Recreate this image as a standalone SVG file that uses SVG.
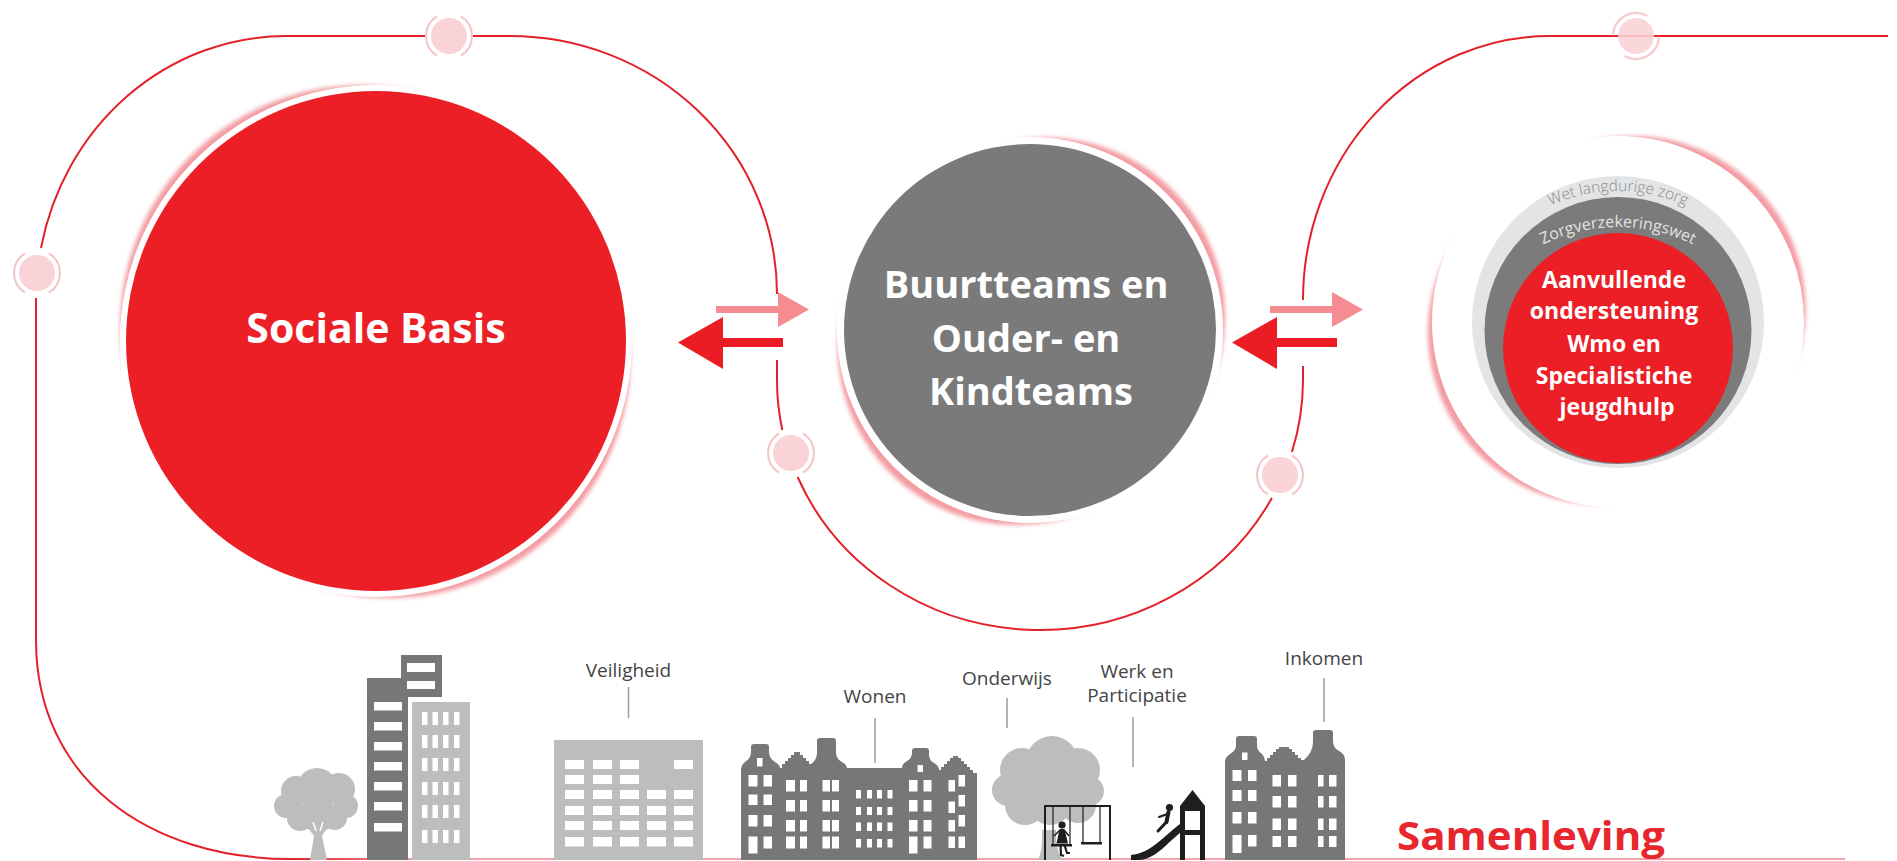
<svg xmlns="http://www.w3.org/2000/svg" width="1897" height="861" viewBox="0 0 1897 861">
  <style>
    .loop{fill:none;stroke:#e4212a;stroke-width:2}
    .title{font-family:"Open Sans","Liberation Sans",sans-serif;font-weight:700;fill:#fff;text-anchor:middle}
    .lbl{font-family:"Open Sans","Liberation Sans",sans-serif;font-weight:400;font-size:19px;fill:#444;text-anchor:middle}
    .arc{font-family:"Open Sans","Liberation Sans",sans-serif;text-anchor:middle}
    .tick{stroke:#9a9a9a;stroke-width:1.5}
    .dark{fill:#777}
    .light{fill:#bdbdbd}
    .win{fill:#fff}
    .ink{fill:#1e1e1e}
    .inkline{stroke:#1e1e1e;fill:none}
    .shadow{fill:#f39ca2}
    .halo{fill:none;stroke:#f5c3c6;stroke-width:2}
    .dotfill{fill:#f9d3d5}
  </style>
  <defs>
    <filter id="soft" x="-20%" y="-20%" width="140%" height="140%">
      <feGaussianBlur stdDeviation="2"/>
    </filter>
    <filter id="softer" x="-30%" y="-30%" width="160%" height="160%">
      <feGaussianBlur stdDeviation="0.7"/>
    </filter>
    <linearGradient id="groundFade" gradientUnits="userSpaceOnUse" x1="290" y1="0" x2="430" y2="0">
      <stop offset="0" stop-color="#e4212a"/>
      <stop offset="1" stop-color="#f3a3a8"/>
    </linearGradient>
    <!-- pink marker dot sitting on the loop -->
    <g id="dot">
      <path class="halo" filter="url(#softer)" d="M -12,-19.6 A 23 23 0 0 0 -12,19.6 M 12,-19.6 A 23 23 0 0 1 12,19.6"/>
      <circle class="dotfill" r="18"/>
    </g>
  </defs>

  <rect width="1897" height="861" fill="#fff"/>

  <!-- loop line, arrows and marker dots -->
  <g id="connectors">
    <path d="M 290,859 H 1845" fill="none" stroke="url(#groundFade)" stroke-width="2"/>
    <path class="loop" d="M 291,859 C 150,859 36,780 36,640 V 298"/>
    <path class="loop" d="M 41,248 A 250 264 0 0 1 286,36 H 425"/>
    <path class="loop" d="M 473,36 H 510 A 267 258 0 0 1 777,294"/>
    <path class="loop" d="M 777,360 V 380 A 263 250 0 0 0 782.3,430"/>
    <path class="loop" d="M 797.6,477 A 263 250 0 0 0 1271.9,498"/>
    <path class="loop" d="M 1291.9,452 A 263 250 0 0 0 1303,380 V 366"/>
    <path class="loop" d="M 1303,300 A 247 264 0 0 1 1550,36 H 1888"/>

    <use href="#dot" transform="translate(449,36)"/>
    <use href="#dot" transform="translate(37,273)"/>
    <use href="#dot" transform="translate(791,453)"/>
    <use href="#dot" transform="translate(1280,475)"/>
    <g transform="translate(1636,36) rotate(60)">
      <path class="halo" filter="url(#softer)" d="M -12,-19.6 A 23 23 0 0 0 -12,19.6 M 12,-19.6 A 23 23 0 0 1 12,19.6"/>
      <circle class="dotfill" r="18" fill-opacity="0.88"/>
    </g>

    <!-- arrows between Sociale Basis and the teams -->
    <path d="M 716,306 H 778 V 292 L 809,309.5 L 778,327 V 313 H 716 Z" fill="#f48c91"/>
    <path d="M 783,338 H 723 V 317 L 678,342.5 L 723,369 V 347 H 783 Z" fill="#ec1c24"/>
    <!-- arrows between the teams and the specialist care -->
    <path d="M 1270,306 H 1332 V 292 L 1363,309.5 L 1332,327 V 313 H 1270 Z" fill="#f48c91"/>
    <path d="M 1337,338 H 1277 V 317 L 1232,342.5 L 1277,369 V 347 H 1337 Z" fill="#ec1c24"/>
  </g>

  <!-- Sociale Basis -->
  <g id="node-sociale-basis">
    <g filter="url(#soft)">
      <circle class="shadow" cx="361.2" cy="326.2" r="241"/>
      <circle class="shadow" cx="389.5" cy="357.1" r="241"/>
    </g>
    <circle cx="376" cy="341" r="256" fill="#fff"/>
    <circle cx="376" cy="341" r="250" fill="#ec1f27"/>
    <text class="title" x="376" y="343" font-size="41">Sociale Basis</text>
  </g>

  <!-- Buurtteams en Ouder- en Kindteams -->
  <g id="node-buurtteams">
    <g filter="url(#soft)">
      <circle class="shadow" cx="1046.1" cy="316.5" r="179"/>
      <circle class="shadow" cx="1016.5" cy="346.1" r="179"/>
    </g>
    <circle cx="1030" cy="330" r="193" fill="#fff"/>
    <circle cx="1030" cy="330" r="186" fill="#7a7a7a"/>
    <text class="title" font-size="38">
      <tspan x="1031" y="298">Buurtteams en</tspan>
      <tspan x="1031" y="352">Ouder- en</tspan>
      <tspan x="1031" y="405">Kindteams</tspan>
    </text>
  </g>

  <!-- Aanvullende ondersteuning, nested in the care laws -->
  <g id="node-aanvullende">
    <defs>
      <path id="arcWlz" d="M 1454,355 A 164 164 0 0 1 1782,355"/>
      <path id="arcZvw" d="M 1449,396 A 169 169 0 0 1 1787,396"/>
    </defs>
    <g filter="url(#soft)">
      <circle class="shadow" cx="1633.6" cy="307.9" r="172"/>
      <circle class="shadow" cx="1599.8" cy="332.5" r="172"/>
    </g>
    <circle cx="1618" cy="322" r="186" fill="#fff"/>
    <circle cx="1618" cy="322" r="146" fill="#e3e4e6"/>
    <circle cx="1618" cy="330.5" r="133.5" fill="#7b7b7b"/>
    <circle cx="1618" cy="348" r="115" fill="#ec1f27"/>
    <text class="arc" font-size="15.5" font-weight="300" fill="#8c8c8c"><textPath href="#arcWlz" startOffset="50%">Wet langdurige zorg</textPath></text>
    <text class="arc" font-size="16" fill="#e2e2e2"><textPath href="#arcZvw" startOffset="50%">Zorgverzekeringswet</textPath></text>
    <text class="title" font-size="23">
      <tspan x="1617" y="288">Aanvullende</tspan>
      <tspan x="1617" y="318.5">ondersteuning</tspan>
      <tspan x="1617" y="351.5">Wmo en</tspan>
      <tspan x="1617" y="383.5">Specialistiche</tspan>
      <tspan x="1617" y="415">jeugdhulp</tspan>
    </text>
  </g>

  <!-- the neighbourhood skyline -->
  <g id="skyline">
    <!-- tree next to the towers -->
    <g class="light">
      <circle cx="317" cy="788" r="20"/>
      <circle cx="296" cy="791" r="15"/>
      <circle cx="286" cy="806" r="12"/>
      <circle cx="300" cy="818" r="13"/>
      <circle cx="318" cy="814" r="18"/>
      <circle cx="339" cy="789" r="16"/>
      <circle cx="346" cy="806" r="12"/>
      <circle cx="335" cy="818" r="12"/>
      <path d="M 310,860 L 314,836 L 308,828 L 312,826 L 317,832 L 321,826 L 327,828 L 322,836 L 327,860 Z"/>
    </g>
    <path d="M 313,822 L 316,831 M 323,822 L 320,831" stroke="#fff" stroke-width="1.5"/>

    <!-- towers -->
    <rect class="dark" x="367" y="678" width="41" height="182"/>
    <rect class="dark" x="401" y="655" width="41" height="42"/>
    <rect class="light" x="412" y="702" width="58" height="158"/>
    <g class="win">
      <rect x="407" y="663" width="28" height="9"/>
      <rect x="407" y="681" width="28" height="8"/>
      <rect x="374" y="702" width="28" height="8.5"/>
      <rect x="374" y="722" width="28" height="8.5"/>
      <rect x="374" y="742" width="28" height="8.5"/>
      <rect x="374" y="762" width="28" height="8.5"/>
      <rect x="374" y="782" width="28" height="8.5"/>
      <rect x="374" y="802" width="28" height="8.5"/>
      <rect x="374" y="823" width="28" height="8.5"/>
      <rect x="422" y="712" width="5.5" height="13"/><rect x="432.5" y="712" width="5.5" height="13"/><rect x="443" y="712" width="5.5" height="13"/><rect x="454" y="712" width="5.5" height="13"/>
      <rect x="422" y="735" width="5.5" height="13"/><rect x="432.5" y="735" width="5.5" height="13"/><rect x="443" y="735" width="5.5" height="13"/><rect x="454" y="735" width="5.5" height="13"/>
      <rect x="422" y="758" width="5.5" height="13"/><rect x="432.5" y="758" width="5.5" height="13"/><rect x="443" y="758" width="5.5" height="13"/><rect x="454" y="758" width="5.5" height="13"/>
      <rect x="422" y="782" width="5.5" height="13"/><rect x="432.5" y="782" width="5.5" height="13"/><rect x="443" y="782" width="5.5" height="13"/><rect x="454" y="782" width="5.5" height="13"/>
      <rect x="422" y="805" width="5.5" height="13"/><rect x="432.5" y="805" width="5.5" height="13"/><rect x="443" y="805" width="5.5" height="13"/><rect x="454" y="805" width="5.5" height="13"/>
      <rect x="422" y="830" width="5.5" height="13"/><rect x="432.5" y="830" width="5.5" height="13"/><rect x="443" y="830" width="5.5" height="13"/><rect x="454" y="830" width="5.5" height="13"/>
    </g>

    <!-- office block (Veiligheid) -->
    <rect class="light" x="554" y="740" width="149" height="120"/>
    <g class="win">
      <rect x="565" y="760" width="19" height="9"/><rect x="593" y="760" width="19" height="9"/><rect x="620" y="760" width="19" height="9"/><rect x="674" y="760" width="19" height="9"/>
      <rect x="565" y="775" width="19" height="9"/><rect x="593" y="775" width="19" height="9"/><rect x="620" y="775" width="19" height="9"/>
      <rect x="565" y="790" width="19" height="9"/><rect x="593" y="790" width="19" height="9"/><rect x="620" y="790" width="19" height="9"/><rect x="647" y="790" width="19" height="9"/><rect x="674" y="790" width="19" height="9"/>
      <rect x="565" y="806" width="19" height="9"/><rect x="593" y="806" width="19" height="9"/><rect x="620" y="806" width="19" height="9"/><rect x="647" y="806" width="19" height="9"/><rect x="674" y="806" width="19" height="9"/>
      <rect x="565" y="821" width="19" height="9"/><rect x="593" y="821" width="19" height="9"/><rect x="620" y="821" width="19" height="9"/><rect x="647" y="821" width="19" height="9"/><rect x="674" y="821" width="19" height="9"/>
      <rect x="565" y="837" width="19" height="9.5"/><rect x="593" y="837" width="19" height="9.5"/><rect x="620" y="837" width="19" height="9.5"/><rect x="647" y="837" width="19" height="9.5"/><rect x="674" y="837" width="19" height="9.5"/>
    </g>

    <!-- canal houses (Wonen) -->
    <path class="dark" d="M 741,860 L 741,770 Q 741,765 745,762 Q 751,758 751,752 L 751,747 Q 751,744 754,744 L 766,744 Q 769,744 769,747 L 769,752 Q 769,758 775,762 Q 780,765 780,768 L 782,768 L 782,764 L 785,764 L 785,761 L 788,761 L 788,758 L 791,758 L 791,755 L 794,755 L 794,752 L 800,752 L 800,755 L 803,755 L 803,758 L 806,758 L 806,761 L 809,761 L 809,764 L 811,764 Q 817,760 817,753 L 817,741 Q 817,738 820,738 L 833,738 Q 836,738 836,741 L 836,752 Q 836,759 842,762 Q 847,765 847,768 L 902,768 Q 902,764 907,761 Q 912,758 912,753 L 912,751 Q 912,748 915,748 L 926,748 Q 929,748 929,751 L 929,755 Q 929,760 934,763 Q 939,766 939,770 L 941,770 L 941,767 L 944,767 L 944,764 L 947,764 L 947,761 L 950,761 L 950,758 L 953,758 L 953,756 L 958,756 L 958,758 L 961,758 L 961,761 L 964,761 L 964,764 L 967,764 L 967,767 L 970,767 L 970,770 L 973,770 L 973,773 L 977,773 L 977,860 Z"/>
    <g class="win">
      <rect x="757" y="758" width="5.5" height="8.5"/>
      <rect x="748.5" y="775" width="9" height="11.5"/><rect x="763.5" y="775" width="8.5" height="11.5"/>
      <rect x="748.5" y="794.5" width="9" height="10.5"/><rect x="763.5" y="794.5" width="8.5" height="10.5"/>
      <rect x="748.5" y="815" width="9" height="11.5"/><rect x="763.5" y="815" width="8.5" height="11.5"/>
      <rect x="748.5" y="836.5" width="9" height="17"/><rect x="763.5" y="836.5" width="8.5" height="12"/>
      <rect x="786" y="780" width="9" height="11.5"/><rect x="800" y="780" width="7" height="11.5"/>
      <rect x="786" y="800" width="9" height="11.5"/><rect x="800" y="800" width="7" height="11.5"/>
      <rect x="786" y="820" width="9" height="11.5"/><rect x="800" y="820" width="7" height="11.5"/>
      <rect x="786" y="836.5" width="9" height="12"/><rect x="800" y="836.5" width="7" height="12"/>
      <rect x="822.5" y="780" width="7.5" height="11.5"/><rect x="832" y="780" width="7" height="11.5"/>
      <rect x="822.5" y="800" width="7.5" height="11.5"/><rect x="832" y="800" width="7" height="11.5"/>
      <rect x="822.5" y="820" width="7.5" height="11.5"/><rect x="832" y="820" width="7" height="11.5"/>
      <rect x="822.5" y="836.5" width="7.5" height="12"/><rect x="832" y="836.5" width="7" height="12"/>
      <rect x="856" y="790" width="5" height="8.5"/><rect x="867" y="790" width="5" height="8.5"/><rect x="877" y="790" width="5" height="8.5"/><rect x="887.5" y="790" width="5" height="8.5"/>
      <rect x="856" y="807" width="5" height="8"/><rect x="867" y="807" width="5" height="8"/><rect x="877" y="807" width="5" height="8"/><rect x="887.5" y="807" width="5" height="8"/>
      <rect x="856" y="822.5" width="5" height="8.5"/><rect x="867" y="822.5" width="5" height="8.5"/><rect x="877" y="822.5" width="5" height="8.5"/><rect x="887.5" y="822.5" width="5" height="8.5"/>
      <rect x="856" y="839" width="5" height="8.5"/><rect x="867" y="839" width="5" height="8.5"/><rect x="877" y="839" width="5" height="8.5"/><rect x="887.5" y="839" width="5" height="8.5"/>
      <rect x="917.5" y="765" width="5.5" height="7"/>
      <rect x="909" y="780" width="8.5" height="11.5"/><rect x="923.5" y="780" width="8" height="11.5"/>
      <rect x="909" y="800" width="8.5" height="11.5"/><rect x="923.5" y="800" width="8" height="11.5"/>
      <rect x="909" y="820" width="8.5" height="11.5"/><rect x="923.5" y="820" width="8" height="11.5"/>
      <rect x="909" y="836.5" width="8.5" height="17"/><rect x="923.5" y="836.5" width="8" height="12"/>
      <rect x="948.5" y="780" width="6.5" height="11.5"/><rect x="958.5" y="775" width="6.5" height="11.5"/>
      <rect x="948.5" y="801.5" width="6.5" height="11.5"/><rect x="958.5" y="795" width="6.5" height="11.5"/>
      <rect x="948.5" y="820" width="6.5" height="11.5"/><rect x="958.5" y="815" width="6.5" height="11.5"/>
      <rect x="948.5" y="836.5" width="6.5" height="11.5"/><rect x="958.5" y="836.5" width="6.5" height="11.5"/>
    </g>

    <!-- tree behind the swing -->
    <g class="light">
      <circle cx="1052" cy="762" r="26"/>
      <circle cx="1022" cy="770" r="22"/>
      <circle cx="1008" cy="790" r="16"/>
      <circle cx="1025" cy="805" r="20"/>
      <circle cx="1050" cy="803" r="22"/>
      <circle cx="1078" cy="770" r="22"/>
      <circle cx="1089" cy="791" r="15"/>
      <circle cx="1078" cy="805" r="18"/>
      <circle cx="1052" cy="786" r="30"/>
      <path d="M 1038,860 Q 1043,850 1042,830 L 1056,830 Q 1055,850 1063,860 Z"/>
    </g>

    <!-- swing -->
    <path class="inkline" stroke-width="2" d="M 1045,860 V 806 H 1110 V 860"/>
    <path class="inkline" stroke-width="1.2" d="M 1053,806 V 845 M 1070,806 V 845 M 1083,806 V 843 M 1100,806 V 843"/>
    <rect class="ink" x="1051" y="844" width="21" height="2.5"/>
    <rect class="ink" x="1081" y="842" width="21" height="2.5"/>
    <circle class="ink" cx="1062" cy="825" r="3.6"/>
    <path class="ink" d="M 1059.5,829 L 1064.5,829 L 1068,843.5 L 1056.5,843.5 Z"/>
    <path class="inkline" stroke-width="1.5" d="M 1059.5,830.5 L 1054,836 M 1064.5,830.5 L 1069,836"/>
    <path class="inkline" stroke-width="2.2" d="M 1060.5,845 L 1061,855 L 1064,856 M 1064.5,845 L 1067,853 L 1070,853"/>

    <!-- slide -->
    <path class="ink" fill-rule="evenodd" d="M 1192.5,790 L 1205,806 V 860 H 1200 V 835 H 1185 V 860 H 1180 V 806 Z M 1185,811 H 1200 V 830 H 1185 Z"/>
    <path class="ink" d="M 1180,824 C 1166,834 1150,854 1131,855 L 1131,860 L 1140,860 C 1157,858 1168,842 1180,833 Z"/>
    <circle class="ink" cx="1169.5" cy="807.5" r="3.6"/>
    <path class="inkline" stroke-width="4" stroke-linecap="round" d="M 1168.5,812 L 1166.5,822"/>
    <path class="inkline" stroke-width="2" stroke-linecap="round" d="M 1167.5,814 L 1159,817"/>
    <path class="inkline" stroke-width="3" stroke-linecap="round" d="M 1166.5,822 L 1158,831"/>

    <!-- canal houses (Inkomen) -->
    <path class="dark" d="M 1225,860 L 1225,762 Q 1225,757 1230,754 Q 1236,751 1236,745 L 1236,739 Q 1236,736 1239,736 L 1254,736 Q 1257,736 1257,739 L 1257,745 Q 1257,751 1262,754 Q 1265,757 1265,761 L 1267,761 L 1267,758 L 1270,758 L 1270,755 L 1273,755 L 1273,752 L 1276,752 L 1276,749 L 1279,749 L 1279,747 L 1289,747 L 1289,749 L 1292,749 L 1292,752 L 1295,752 L 1295,755 L 1298,755 L 1298,758 L 1301,758 L 1301,760 L 1304,760 Q 1313,752 1313,742 L 1313,733 Q 1313,730 1316,730 L 1330,730 Q 1333,730 1333,733 L 1333,741 Q 1333,748 1339,751 Q 1345,754 1345,760 L 1345,860 Z"/>
    <g class="win">
      <rect x="1242" y="752.5" width="5.5" height="7.5"/>
      <rect x="1232.5" y="770" width="9" height="11"/><rect x="1248" y="770" width="8.5" height="11"/>
      <rect x="1232.5" y="790" width="9" height="11"/><rect x="1248" y="790" width="8.5" height="11"/>
      <rect x="1232.5" y="812" width="9" height="11.5"/><rect x="1248" y="812" width="8.5" height="11.5"/>
      <rect x="1232.5" y="835" width="9" height="18"/><rect x="1248" y="835" width="8.5" height="11.5"/>
      <rect x="1272.5" y="775" width="8.5" height="11.5"/><rect x="1288" y="775" width="8.5" height="11.5"/>
      <rect x="1272.5" y="796" width="8.5" height="11.5"/><rect x="1288" y="796" width="8.5" height="11.5"/>
      <rect x="1272.5" y="818.5" width="8.5" height="11.5"/><rect x="1288" y="818.5" width="8.5" height="11.5"/>
      <rect x="1272.5" y="836" width="8.5" height="11"/><rect x="1288" y="836" width="8.5" height="11"/>
      <rect x="1318" y="775" width="5.5" height="11.5"/><rect x="1329" y="775" width="7.5" height="11.5"/>
      <rect x="1318" y="796" width="5.5" height="11.5"/><rect x="1329" y="796" width="7.5" height="11.5"/>
      <rect x="1318" y="818.5" width="5.5" height="11.5"/><rect x="1329" y="818.5" width="7.5" height="11.5"/>
      <rect x="1318" y="836" width="5.5" height="11"/><rect x="1329" y="836" width="7.5" height="11"/>
    </g>
  </g>

  <!-- domain labels of the skyline -->
  <g id="label-veiligheid">
    <text class="lbl" x="628.5" y="677">Veiligheid</text>
    <line class="tick" x1="628.5" y1="687" x2="628.5" y2="718"/>
  </g>
  <g id="label-wonen">
    <text class="lbl" x="875" y="703">Wonen</text>
    <line class="tick" x1="875" y1="718" x2="875" y2="763"/>
  </g>
  <g id="label-onderwijs">
    <text class="lbl" x="1007" y="685">Onderwijs</text>
    <line class="tick" x1="1007" y1="698" x2="1007" y2="728"/>
  </g>
  <g id="label-werk">
    <text class="lbl"><tspan x="1137" y="678">Werk en</tspan><tspan x="1137" y="702">Participatie</tspan></text>
    <line class="tick" x1="1133" y1="717" x2="1133" y2="767"/>
  </g>
  <g id="label-inkomen">
    <text class="lbl" x="1324" y="665">Inkomen</text>
    <line class="tick" x1="1324" y1="678" x2="1324" y2="722"/>
  </g>

  <g id="label-samenleving">
    <text x="1397" y="850" font-family="'Open Sans','Liberation Sans',sans-serif" font-weight="700" font-size="39" fill="#e8262d" textLength="268" lengthAdjust="spacingAndGlyphs">Samenleving</text>
  </g>
</svg>
